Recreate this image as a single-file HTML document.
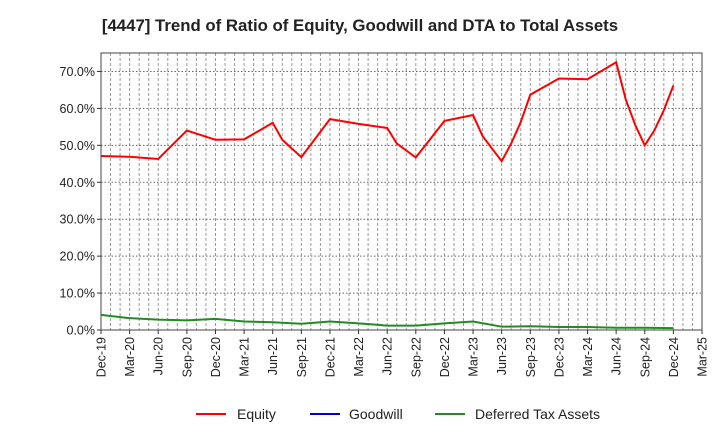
<!DOCTYPE html>
<html><head><meta charset="utf-8"><style>
body{margin:0;background:#fff;font-family:"Liberation Sans",Arial,sans-serif}
svg text{font-family:"Liberation Sans",Arial,sans-serif}
</style></head><body>
<svg id="c" width="720" height="440" xmlns="http://www.w3.org/2000/svg">
<text x="360" y="31" text-anchor="middle" font-size="16.8" font-weight="bold" fill="#222">[4447]  Trend of Ratio of Equity, Goodwill and DTA to Total Assets</text>
<g id="grid"></g><g id="axes"></g><g id="series"></g>
<g>
<line x1="196" y1="414" x2="226" y2="414" stroke="#ff0000" stroke-width="2"/><text x="237" y="419" font-size="14" fill="#222">Equity</text>
<line x1="310" y1="414" x2="340" y2="414" stroke="#0000cc" stroke-width="2"/><text x="349" y="419" font-size="14" fill="#222">Goodwill</text>
<line x1="435" y1="414" x2="465" y2="414" stroke="#228b22" stroke-width="2"/><text x="475" y="419" font-size="14" fill="#222">Deferred Tax Assets</text>
</g>
</svg>
<script>
const xTickLabels=["Dec-19","Mar-20","Jun-20","Sep-20","Dec-20","Mar-21","Jun-21","Sep-21","Dec-21","Mar-22","Jun-22","Sep-22","Dec-22","Mar-23","Jun-23","Sep-23","Dec-23","Mar-24","Jun-24","Sep-24","Dec-24","Mar-25"];
const yTicks=[0,10,20,30,40,50,60,70];
const equityMonths=[0,3,6,9,12,15,18,19,21,24,27,30,31,33,36,39,40,42,43,44,45,48,51,54,55,56,57,58,59,60];
const equityValues=[47.1,46.9,46.3,54.0,51.5,51.6,56.1,51.5,46.8,57.1,55.8,54.7,50.5,46.7,56.6,58.2,52.5,45.7,50.5,56.3,63.7,68.1,67.9,72.5,62.5,55.5,50.0,54.0,59.5,66.2];
const dtaMonths=[0,3,6,9,12,15,18,21,24,27,30,33,36,39,42,45,48,51,54,57,60];
const dtaValues=[4.1,3.2,2.8,2.6,3.0,2.3,2.1,1.7,2.3,1.8,1.2,1.2,1.8,2.3,0.9,1.0,0.8,0.8,0.6,0.6,0.5];
const L=101,R=702,T=53,B=330,NM=63,YMAX=75;
const x=m=>L+(R-L)*m/NM, y=v=>B-(B-T)*v/YMAX;
const NS="http://www.w3.org/2000/svg";
function mk(tag,attrs,parent){const e=document.createElementNS(NS,tag);for(const k in attrs)e.setAttribute(k,attrs[k]);parent.appendChild(e);return e;}
const g=document.getElementById('grid'),a=document.getElementById('axes'),s=document.getElementById('series');
for(let m=1;m<NM;m++){const l=mk('line',{x1:x(m),x2:x(m),y1:T,y2:B,stroke:'#999','stroke-dasharray':'3,2','stroke-width':1},g);

}
yTicks.forEach(v=>{if(v>0){const l=mk('line',{x1:L,x2:R,y1:y(v),y2:y(v),stroke:'#666','stroke-dasharray':'1.5,2','stroke-width':1},g);

}
const t=mk('text',{x:L-6,y:y(v)+4.5,'text-anchor':'end','font-size':12.5,fill:'#222'},a);t.textContent=v.toFixed(1)+'%';


mk('line',{x1:L-4,x2:L,y1:y(v),y2:y(v),stroke:'#333'},a);});
xTickLabels.forEach((lab,i)=>{const xx=x(i*3);mk('line',{x1:xx,x2:xx,y1:B,y2:B+4,stroke:'#333'},a);
const t=mk('text',{x:0,y:0,'text-anchor':'end','font-size':12.5,fill:'#222',transform:`translate(${xx+4.5},${B+7}) rotate(-90)`},a);t.textContent=lab;

});
const fr=mk('rect',{x:L,y:T,width:R-L,height:B-T,fill:'none',stroke:'#444','stroke-width':1},a);


const pe=mk('polyline',{points:equityMonths.map((m,i)=>x(m)+','+y(equityValues[i])).join(' '),fill:'none',stroke:'#ff0000','stroke-width':2},s);


const pd=mk('polyline',{points:dtaMonths.map((m,i)=>x(m)+','+y(dtaValues[i])).join(' '),fill:'none',stroke:'#228b22','stroke-width':2},s);


</script>
</body></html>
